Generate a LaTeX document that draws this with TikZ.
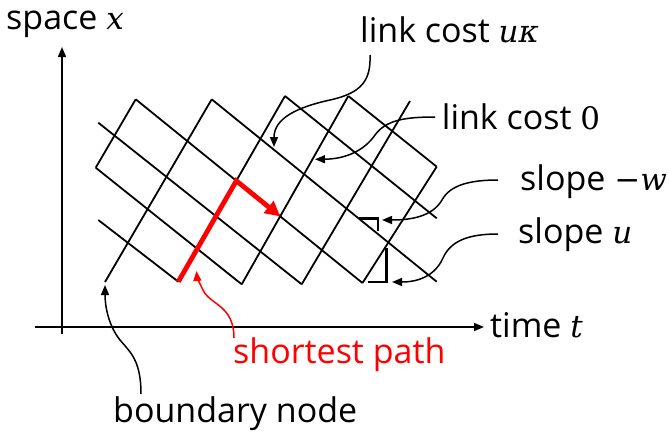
\documentclass[tikz,border=0pt]{standalone}
\usepackage{fontspec}
\setmainfont{Open Sans}
\newfontfamily\varfont{DejaVu Serif}
\newcommand\var[1]{{\varfont\fontsize{31}{40}\selectfont\itshape #1}}
\usetikzlibrary{arrows.meta}

\begin{document}
\begin{tikzpicture}[x=1pt,y=-1pt,
  lattice/.style={line width=1.8pt},
  axis/.style={line width=1.5pt,-{Triangle[length=10pt,width=8pt]}},
  callout/.style={line width=1.5pt,-{Triangle[length=10pt,width=8pt]}},
  lbl/.style={font=\fontsize{34}{40}\selectfont, anchor=base west, inner sep=0pt},
  slopemark/.style={line width=2.8pt},
  pathred/.style={red, line width=4.8pt, line join=miter,
    -{Triangle[length=15pt,width=15pt]}},
]
\useasboundingbox (0,0) rectangle (669,442);

% axes
\coordinate (yaxbot) at (62,334);
\coordinate (yaxtop) at (62,47);
\coordinate (xaxl) at (35,327);
\coordinate (xaxr) at (484,327);
\draw[axis] (yaxbot) -- (yaxtop);
\draw[axis] (xaxl) -- (xaxr);

% lattice: lines of slope u
\coordinate (s0a) at (95.7,167.7); \coordinate (s0b) at (135.7,99.3);
\coordinate (s1a) at (105,282);    \coordinate (s1b) at (211.7,99.3);
\coordinate (s2a) at (178.3,281.7);\coordinate (s2b) at (285,96);
\coordinate (s3a) at (241.7,284.3);\coordinate (s3b) at (348.3,96);
\coordinate (s4a) at (301.7,284.3);\coordinate (s4b) at (410,101);
\coordinate (s5a) at (362.5,283);  \coordinate (s5b) at (436.7,166.7);
% free ends of the lines of slope -w
\coordinate (gma) at (98.3,220);
\coordinate (g1a) at (98.3,122.7);
\coordinate (g3b) at (436.7,281.7);
\coordinate (g4b) at (436.7,218.3);

\draw[lattice] (s0a) -- (s0b);
\draw[lattice] (s1a) -- (s1b);
\draw[lattice] (s2a) -- (s2b);
\draw[lattice] (s3a) -- (s3b);
\draw[lattice] (s4a) -- (s4b);
\draw[lattice] (s5a) -- (s5b);

\draw[lattice] (gma) -- (s2a);
\draw[lattice] (s0a) -- (s3a);
\draw[lattice] (g1a) -- (s4a);
\draw[lattice] (s0b) -- (s5a);
\draw[lattice] (s1b) -- (g3b);
\draw[lattice] (s2b) -- (g4b);
\draw[lattice] (s3b) -- (s5b);

% shortest path
\coordinate (pc) at (intersection of s2a--s2b and s0b--s5a);
\coordinate (pe) at (intersection of s3a--s3b and s0b--s5a);
\draw[pathred] (s2a) -- (pc) -- (pe);

% slope markers
\draw[slopemark] (359,218.8) -- (378,218.8) -- (378,231);
\draw[slopemark] (386.5,248) -- (386.5,282) -- (368,282);

% labels
\node[lbl] (space) at (6,29) {space \var{x}};
\node[lbl] (ucost) at (360,42.7) {link cost \var{uκ}};
\node[lbl] (zcost) at (441.7,129.3) {link cost {\varfont\fontsize{31}{40}\selectfont 0}};
\node[lbl] (slw) at (520,190) {slope {\varfont\fontsize{31}{40}\selectfont −}\var{w}};
\node[lbl] (slu) at (518,243) {slope \var{u}};
\node[lbl] (time) at (490,337) {time \var{t}};
\node[lbl, text=red] (sp) at (233,363) {shortest path};
\node[lbl] (bn) at (113,422) {boundary node};

% callout ends
\coordinate (c1s) at (370,55);   \coordinate (c1e) at (274,147);
\coordinate (c2s) at (435,117);  \coordinate (c2e) at (315,159.3);
\coordinate (c3s) at (498,180);  \coordinate (c3e) at (382,220);
\coordinate (c4s) at (498,234);  \coordinate (c4e) at (392,282);
\coordinate (c5s) at (234,338);  \coordinate (c5e) at (196.5,271);
\coordinate (c6s) at (141,394);  \coordinate (c6e) at (105,285);

\draw[callout] (c1s) .. controls (371,80) and (362,93) .. (330,100)
  .. controls (298,107) and (274,118) .. (c1e);
\draw[callout] (c2s) .. controls (405,117) and (386,120) .. (375,135)
  .. controls (364,151) and (345,159) .. (c2e);
\draw[callout] (c3s) .. controls (470,180) and (450,185) .. (442,200)
  .. controls (432,217) and (410,220) .. (c3e);
\draw[callout] (c4s) .. controls (470,234) and (451,240) .. (443,258)
  .. controls (434,278) and (415,282) .. (c4e);
\draw[callout, red] (c5s) .. controls (234,305) and (210,305) .. (203,290)
  .. controls (199,282) and (197,277) .. (c5e);
\draw[callout] (c6s) .. controls (141,360) and (130,352) .. (120,340)
  .. controls (108,325) and (105,305) .. (c6e);
\end{tikzpicture}
\end{document}
